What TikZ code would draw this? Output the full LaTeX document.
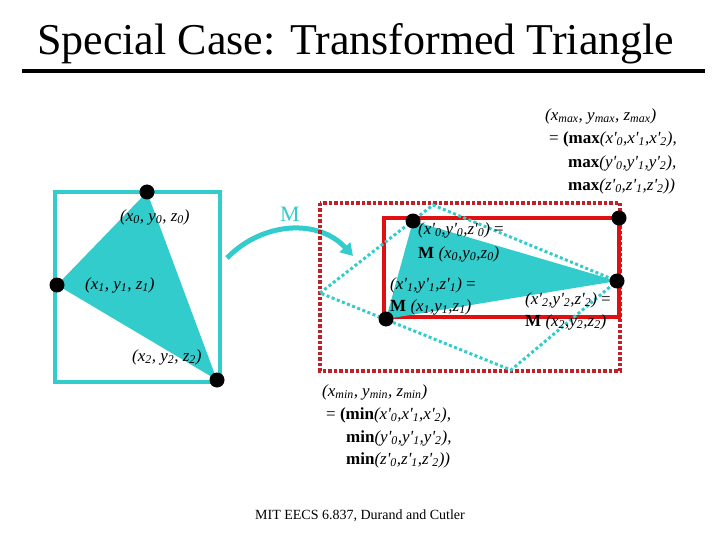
\documentclass[tikz,border=0pt]{standalone}
\usepackage{fontspec}
\setmainfont{Liberation Serif}
\usetikzlibrary{arrows.meta}
\definecolor{cy}{RGB}{51,204,204}
\definecolor{rd}{RGB}{224,16,16}
\definecolor{drd}{RGB}{192,32,40}
\newcommand\lo[1]{\textsubscript{#1}}
\newcommand\pr{\textquotesingle}
\begin{document}
\begin{tikzpicture}[x=1pt,y=-1pt,
  lbl/.style={anchor=west,inner sep=0pt,font=\fontsize{17}{20}\selectfont},
  vdot/.style={circle,fill=black,inner sep=0pt,minimum size=15pt},
  cyline/.style={draw=cy,line width=4pt},
  cydots/.style={draw=cy,line width=3pt,dash pattern=on 3pt off 2.5pt},
  rddots/.style={draw=drd,line width=4pt,dash pattern=on 3.5pt off 2pt}]
\useasboundingbox (0,0) rectangle (720,540);
% title
\node[anchor=base west,inner sep=0pt,font=\fontsize{44}{50}\selectfont] (title) at (37,55) {Special Case: Transformed Triangle};
\draw[line width=4pt] (22,71) coordinate (r1) -- (705,71) coordinate (r2);
% left box and triangle
\draw[cyline] (55,192) rectangle (220,382);
\coordinate (a0) at (147,192);
\coordinate (a1) at (57,285);
\coordinate (a2) at (217,380);
\fill[cy] (a0) -- (a1) -- (a2) -- cycle;
\node[vdot] (d0) at (a0) {};
\node[vdot] (d1) at (a1) {};
\node[vdot] (d2) at (a2) {};
\node[lbl] (l0) at (120,217) {\itshape (x\lo{0}, y\lo{0}, z\lo{0})};
\node[lbl] (l1) at (85,285) {\itshape (x\lo{1}, y\lo{1}, z\lo{1})};
\node[lbl] (l2) at (132,357) {\itshape (x\lo{2}, y\lo{2}, z\lo{2})};
% arrow M
\coordinate (ms) at (227,258);
\coordinate (me) at (353,256);
\draw[draw=cy,line width=5pt,-{Triangle[length=12pt,width=14pt]}] (ms) .. controls (262,222) and (318,218) .. (me);
\node[lbl,anchor=center,text=cy,font=\fontsize{22}{24}\selectfont] (mlab) at (290,214) {M};
% red boxes
\draw[rddots] (320,203) rectangle (620,371);
\draw[draw=rd,line width=4pt] (384,218) rectangle (619,317);
% transformed triangle
\coordinate (b0) at (413,221);
\coordinate (b1) at (386,319);
\coordinate (b2) at (617,281);
\fill[cy] (b0) -- (b1) -- (b2) -- cycle;
\coordinate (q1) at (320,293);
\coordinate (q2) at (433,205);
\coordinate (q4) at (511,370);
\draw[cydots] (q1) -- (q2) -- (b2) -- (q4) -- cycle;
\node[vdot] (e0) at (b0) {};
\node[vdot] (e1) at (b1) {};
\node[vdot] (e2) at (b2) {};
\node[vdot] (emax) at (619,218) {};
% labels transformed
\node[lbl] (t0a) at (418,230) {\itshape (x\pr\lo{0},y\pr\lo{0},z\pr\lo{0}) \upshape=};
\node[lbl] (t0b) at (418,254) {\textbf{M} \itshape(x\lo{0},y\lo{0},z\lo{0})};
\node[lbl] (t1a) at (390,285) {\itshape (x\pr\lo{1},y\pr\lo{1},z\pr\lo{1}) \upshape=};
\node[lbl] (t1b) at (390,307) {\textbf{M} \itshape(x\lo{1},y\lo{1},z\lo{1})};
\node[lbl] (t2a) at (525,300) {\itshape (x\pr\lo{2},y\pr\lo{2},z\pr\lo{2}) \upshape=};
\node[lbl] (t2b) at (525,322) {\textbf{M} \itshape(x\lo{2},y\lo{2},z\lo{2})};
% max label
\node[lbl] (x1) at (545,116) {\itshape (x\lo{max}, y\lo{max}, z\lo{max})};
\node[lbl] (x2) at (549,139) {= \textbf{(max}\itshape(x\pr\lo{0},x\pr\lo{1},x\pr\lo{2}),};
\node[lbl] (x3) at (568,163) {\textbf{max}\itshape(y\pr\lo{0},y\pr\lo{1},y\pr\lo{2}),};
\node[lbl] (x4) at (568,186) {\textbf{max}\itshape(z\pr\lo{0},z\pr\lo{1},z\pr\lo{2}))};
% min label
\node[lbl] (n1) at (322,392) {\itshape (x\lo{min}, y\lo{min}, z\lo{min})};
\node[lbl] (n2) at (326,415) {= \textbf{(min}\itshape(x\pr\lo{0},x\pr\lo{1},x\pr\lo{2}),};
\node[lbl] (n3) at (346,438) {\textbf{min}\itshape(y\pr\lo{0},y\pr\lo{1},y\pr\lo{2}),};
\node[lbl] (n4) at (346,460) {\textbf{min}\itshape(z\pr\lo{0},z\pr\lo{1},z\pr\lo{2}))};
% footer
\node[anchor=center,inner sep=0pt,font=\fontsize{14}{16}\selectfont] (foot) at (360,516) {MIT EECS 6.837, Durand and Cutler};
\end{tikzpicture}
\end{document}
